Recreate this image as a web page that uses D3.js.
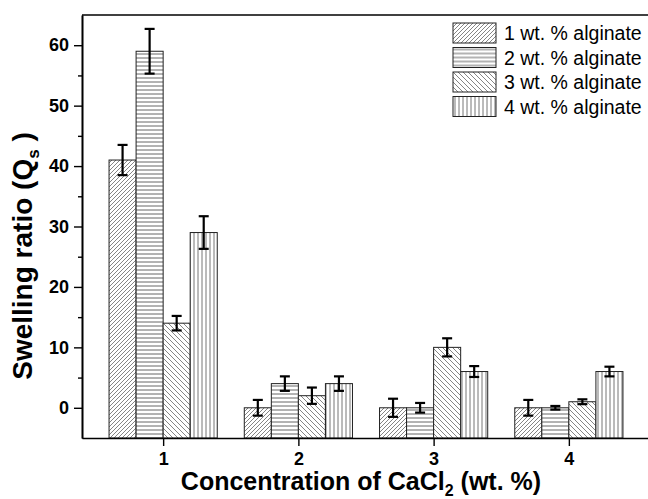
<!DOCTYPE html>
<html>
<head>
<meta charset="utf-8">
<script src="https://cdn.jsdelivr.net/npm/d3@7"></script>
<style>
  body { margin: 0; background: #fff; }
  svg { display: block; font-family: "Liberation Sans", Arial, sans-serif; }
</style>
</head>
<body>
<svg id="chart" width="648" height="499"></svg>
<script>
// data
var categories = [1, 2, 3, 4];
var seriesNames = ["1 wt. % alginate", "2 wt. % alginate", "3 wt. % alginate", "4 wt. % alginate"];
var alg1 = [41, 0, 0, 0];
var alg2 = [59, 4, 0, 0];
var alg3 = [14, 2, 10, 1];
var alg4 = [29, 4, 6, 6];
var err1 = [2.5, 1.3, 1.5, 1.3];
var err2 = [3.7, 1.2, 0.8, 0.3];
var err3 = [1.2, 1.35, 1.5, 0.4];
var err4 = [2.7, 1.2, 0.9, 0.8];
var yTicks = [0, 10, 20, 30, 40, 50, 60];
var yMinor = [5, 15, 25, 35, 45, 55];

var values = [alg1, alg2, alg3, alg4];
var errors = [err1, err2, err3, err4];

var svg = d3.select("#chart"),
    plotLeft = 82, plotRight = 650, plotTop = 15, plotBottom = 438;

var x = d3.scaleLinear().domain([0.4, 4.6]).range([plotLeft, plotRight]);
var y = d3.scaleLinear().domain([-5, 65]).range([plotBottom, plotTop]);
var inner = d3.scaleBand().domain(d3.range(4)).range([-0.4, 0.4]);

// hatch patterns
var defs = svg.append("defs");
function pattern(id, w, h, d, color) {
    var p = defs.append("pattern")
        .attr("id", id)
        .attr("patternUnits", "userSpaceOnUse")
        .attr("width", w).attr("height", h);
    p.append("rect").attr("width", w).attr("height", h).attr("fill", "#fff");
    p.append("path").attr("d", d)
        .attr("stroke", color).attr("stroke-width", 0.9);
}
pattern("p0", 4, 4, "M-1,1 l2,-2 M0,4 l4,-4 M3,5 l2,-2", "#777");
pattern("p1", 4, 4, "M0,2 H4", "#555");
pattern("p2", 5, 5, "M-1,4 l2,2 M0,0 l5,5 M4,-1 l2,2", "#777");
pattern("p3", 4, 4, "M2,0 V4", "#666");

var rows = [];
categories.forEach(function (c, ci) {
    values.forEach(function (s, si) {
        rows.push({cat: c, s: si, v: s[ci], e: errors[si][ci]});
    });
});

// bars
svg.append("g").selectAll("rect")
    .data(rows)
    .enter().append("rect")
    .attr("x", function (d) { return x(d.cat + inner(d.s)); })
    .attr("width", function (d) { return x(d.cat + inner(d.s) + inner.bandwidth()) - x(d.cat + inner(d.s)); })
    .attr("y", function (d) { return y(d.v); })
    .attr("height", function (d) { return y(-5) - y(d.v); })
    .attr("fill", function (d) { return "url(#p" + d.s + ")"; })
    .attr("stroke", "#222")
    .attr("stroke-width", 1);

// error bars
function cx(d) { return x(d.cat + inner(d.s) + inner.bandwidth() / 2); }
var eb = svg.append("g").selectAll("g")
    .data(rows)
    .enter().append("g")
    .attr("stroke", "#000")
    .attr("stroke-width", 2.2);
eb.append("line")
    .attr("x1", cx).attr("x2", cx)
    .attr("y1", function (d) { return y(d.v + d.e); })
    .attr("y2", function (d) { return y(d.v - d.e); });
eb.append("line")
    .attr("x1", function (d) { return cx(d) - 5; }).attr("x2", function (d) { return cx(d) + 5; })
    .attr("y1", function (d) { return y(d.v + d.e); })
    .attr("y2", function (d) { return y(d.v + d.e); });
eb.append("line")
    .attr("x1", function (d) { return cx(d) - 5; }).attr("x2", function (d) { return cx(d) + 5; })
    .attr("y1", function (d) { return y(d.v - d.e); })
    .attr("y2", function (d) { return y(d.v - d.e); });

// axes
svg.append("g")
    .attr("transform", "translate(" + plotLeft + ",0)")
    .call(d3.axisLeft(y).tickValues(yTicks).tickSize(8).tickPadding(5).tickSizeOuter(0));
svg.append("g")
    .attr("transform", "translate(" + plotLeft + ",0)")
    .call(d3.axisLeft(y).tickValues(yMinor).tickSize(4).tickFormat("").tickSizeOuter(0));
svg.append("g")
    .attr("transform", "translate(0," + plotBottom + ")")
    .call(d3.axisBottom(x).tickValues(categories).tickFormat(d3.format("d"))
        .tickSize(8).tickPadding(6).tickSizeOuter(0));

svg.selectAll(".domain").attr("stroke", "#000").attr("stroke-width", 1.6);
svg.selectAll(".tick line").attr("stroke", "#000").attr("stroke-width", 1.4);
svg.selectAll(".tick text")
    .attr("fill", "#000")
    .style("font-size", "18px")
    .style("font-weight", "bold")
    .style("font-family", "Liberation Sans, Arial, sans-serif");

// frame top (right side falls just outside the picture)
svg.append("line")
    .attr("x1", plotLeft).attr("x2", plotRight)
    .attr("y1", plotTop).attr("y2", plotTop)
    .attr("stroke", "#000").attr("stroke-width", 1.6);

// axis titles
var yt = svg.append("text")
    .attr("transform", "translate(32,256) rotate(-90)")
    .attr("text-anchor", "middle")
    .style("font-size", "28px")
    .style("font-weight", "bold");
yt.append("tspan").text("Swelling ratio (Q");
yt.append("tspan").attr("dy", 7).style("font-size", "17px").text("s");
yt.append("tspan").attr("dy", -7).text(" )");

var xt = svg.append("text")
    .attr("x", 361).attr("y", 490)
    .attr("text-anchor", "middle")
    .style("font-size", "25px")
    .style("font-weight", "bold");
xt.append("tspan").text("Concentration of CaCl");
xt.append("tspan").attr("dy", 6).style("font-size", "16px").text("2");
xt.append("tspan").attr("dy", -6).text(" (wt. %)");

// legend
var legend = svg.append("g").selectAll("g")
    .data(seriesNames)
    .enter().append("g")
    .attr("transform", function (d, i) { return "translate(453," + (23 + i * 24.5) + ")"; });
legend.append("rect")
    .attr("width", 43).attr("height", 20)
    .attr("fill", function (d, i) { return "url(#p" + i + ")"; })
    .attr("stroke", "#222").attr("stroke-width", 1);
legend.append("text")
    .attr("x", 51).attr("y", 17)
    .style("font-size", "19.5px")
    .text(function (d) { return d; });
</script>
</body>
</html>
